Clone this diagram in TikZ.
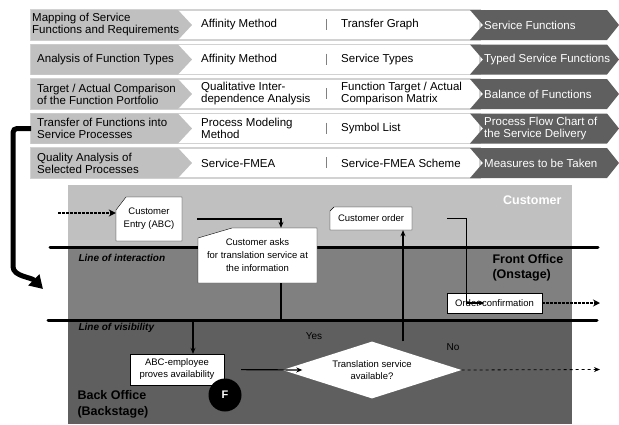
\documentclass[tikz,border=0pt]{standalone}
\usepackage{fontspec}
\setmainfont{Liberation Sans}
\usepackage{xcolor}
\usepackage{tikz}
\usetikzlibrary{arrows.meta,shapes.geometric}
\definecolor{light}{HTML}{C0C0C0}
\definecolor{middle}{HTML}{808080}
\definecolor{darkgr}{HTML}{5F5F5F}
\definecolor{rowline}{HTML}{D2D2D2}

\begin{document}
\begin{tikzpicture}[x=1pt,y=-1pt,
  tab/.style={anchor=west,inner sep=0pt,align=left,font=\fontsize{11.5}{12}\selectfont},
  doc/.style={rectangle,inner sep=1pt,align=center,font=\fontsize{9.5}{13}\selectfont},
  box/.style={rectangle,draw,fill=white,inner sep=1pt,align=center,font=\fontsize{9.5}{12}\selectfont},
  flow/.style={line width=1.2pt,-{Stealth[length=6pt,width=5pt]}},
  dflow/.style={line width=2.4pt,dash pattern=on 3pt off 1pt,-{Stealth[length=7pt,width=7pt]}},
  lane/.style={line width=3pt,line cap=round}]
\useasboundingbox (0,0) rectangle (619,424);
%% rows of the table
\draw [rowline,line width=1.2pt,fill=white] (31,10) rectangle (480,40);
\draw [rowline,line width=1.2pt,fill=white] (31,44.5) rectangle (480,74.5);
\draw [rowline,line width=1.2pt,fill=white] (31,79) rectangle (480,109);
\draw [rowline,line width=1.2pt,fill=white] (31,113.5) rectangle (480,143.5);
\draw [rowline,line width=1.2pt,fill=white] (31,148) rectangle (480,178);
%
\fill [light] (31,10) -- ++(147,0) -- ++(14,15) -- ++(-14,15) -- ++(-147,0) -- cycle;
\fill [light] (31,44.5) -- ++(147,0) -- ++(14,15) -- ++(-14,15) -- ++(-147,0) -- cycle;
\fill [light] (31,79) -- ++(147,0) -- ++(14,15) -- ++(-14,15) -- ++(-147,0) -- cycle;
\fill [light] (31,113.5) -- ++(147,0) -- ++(14,15) -- ++(-14,15) -- ++(-147,0) -- cycle;
\fill [light] (31,148) -- ++(147,0) -- ++(14,15) -- ++(-14,15) -- ++(-147,0) -- cycle;
%
\fill [darkgr] (470,10) -- ++(137,0) -- ++(12,15) -- ++(-12,15) -- ++(-137,0) -- ++(13,-15) -- cycle;
\fill [darkgr] (470,44.5) -- ++(137,0) -- ++(12,15) -- ++(-12,15) -- ++(-137,0) -- ++(13,-15) -- cycle;
\fill [darkgr] (470,79) -- ++(137,0) -- ++(12,15) -- ++(-12,15) -- ++(-137,0) -- ++(13,-15) -- cycle;
\fill [darkgr] (470,113.5) -- ++(137,0) -- ++(12,15) -- ++(-12,15) -- ++(-137,0) -- ++(13,-15) -- cycle;
\fill [darkgr] (470,148) -- ++(137,0) -- ++(12,15) -- ++(-12,15) -- ++(-137,0) -- ++(13,-15) -- cycle;
%
\draw [gray] (326,19) -- ++(0,11);
\draw [gray] (326,53.5) -- ++(0,11);
\draw [gray] (326,88) -- ++(0,11);
\draw [gray] (326,122.5) -- ++(0,11);
\draw [gray] (326,157) -- ++(0,11);
%
\node (p1) at (32,25) [tab] {Mapping of Service\\Functions and Requirements};
\node (a1) at (201,25) [tab] {Affinity Method};
\node (b1) at (341,25) [tab] {Transfer Graph};
\node (r1) at (484,25) [tab,white] {Service Functions};
\node (p2) at (37,59.5) [tab] {Analysis of Function Types};
\node (a2) at (201,59.5) [tab] {Affinity Method};
\node (b2) at (341,59.5) [tab] {Service Types};
\node (r2) at (484,59.5) [tab,white] {Typed Service Functions};
\node (p3) at (37,94) [tab] {Target / Actual Comparison\\of the Function Portfolio};
\node (a3) at (201,94) [tab] {Qualitative Inter-\\dependence Analysis};
\node (b3) at (341,94) [tab] {Function Target / Actual\\Comparison Matrix};
\node (r3) at (484,94) [tab,white] {Balance of Functions};
\node (p4) at (37,128.5) [tab] {Transfer of Functions into\\Service Processes};
\node (a4) at (201,128.5) [tab] {Process Modeling\\Method};
\node (b4) at (341,128.5) [tab] {Symbol List};
\node (r4) at (484,128.5) [tab,white] {Process Flow Chart of\\the Service Delivery};
\node (p5) at (37,163) [tab] {Quality Analysis of\\Selected Processes};
\node (a5) at (201,163) [tab] {Service-FMEA};
\node (b5) at (341,163) [tab] {Service-FMEA Scheme};
\node (r5) at (484,163) [tab,white] {Measures to be Taken};
%% blueprint
\fill [light] (68,185) rectangle (572,247);
\fill [middle] (68,247) rectangle (572,320);
\fill [darkgr] (68,320) rectangle (572,424);
\draw [lane] (50,247) -- (598,247);
\draw [lane] (48,320) -- (597,320);
%
\node (cu) at (565,200) [anchor=east,white,font=\bfseries\fontsize{12.5}{15}\selectfont] {Customer};
\node (fo) at (489,268) [anchor=west,align=left,font=\bfseries\fontsize{12.5}{15}\selectfont] {Front Office\\(Onstage)};
\node (bo) at (74,404) [anchor=west,align=left,font=\bfseries\fontsize{12.5}{16}\selectfont] {Back Office\\(Backstage)};
\node (li) at (75,258) [anchor=west,font=\bfseries\itshape\fontsize{10}{12}\selectfont] {Line of interaction};
\node (lv) at (75,328) [anchor=west,font=\bfseries\itshape\fontsize{10}{12}\selectfont] {Line of visibility};
%
\draw [fill=white] (116,210) -- (126,197) -- (182,197) -- (182,241) -- (116,241) -- cycle;
\draw [fill=white] (198,238) -- (232,228) -- (317,228) -- (317,283) -- (198,283) -- cycle;
\draw [fill=white] (330,211) -- (334,207) -- (412,207) -- (412,230) -- (330,230) -- cycle;
\node (entry) at (149,219) [doc,minimum width=66pt,minimum height=44pt] {Customer\\Entry (ABC)};
\node (asks) at (257.5,255.5) [doc,minimum width=119pt,minimum height=55pt] {Customer asks\\for translation service at\\the information};
\node (order) at (371,218.5) [doc,minimum width=82pt,minimum height=23pt] {Customer order};
\node (confirm) at (494.5,303) [box,minimum width=95pt,minimum height=20pt] {Order confirmation};
\node (employee) at (177,369.5) [box,minimum width=94pt,minimum height=31pt] {ABC-employee\\proves availability};
\node (avail) at (372,370) [diamond,fill=white,shape aspect=3.1,minimum width=179pt,minimum height=57pt,inner sep=1pt,align=center,font=\fontsize{9.5}{12}\selectfont] {Translation service\\available?};
\node (f) at (225,395) [circle,fill=black,minimum size=33pt,inner sep=0pt,text=white,font=\bfseries\fontsize{11}{12}\selectfont] {F};
\node (yes) at (314,336) [font=\fontsize{10}{12}\selectfont] {Yes};
\node (no) at (453,347) [font=\fontsize{10}{12}\selectfont] {No};
%
\coordinate (in) at (58,213);
\coordinate (out1) at (600,303);
\coordinate (out2) at (600,369.5);
\coordinate (c) at (43,289);
%
\draw [dflow] (in) -- (in -| entry.west);
\draw [flow,shorten <=15pt] (entry.east) -| ([xshift=23.5pt]asks.north);
\draw [flow] ([xshift=23.5pt]asks.south) -- ++(0,37) -| ([xshift=16pt]employee.north);
\draw [flow,shorten <=17pt] (employee.east) -- ([xshift=20pt]avail.west);
\draw [flow] ([xshift=31pt]avail.north) -- ([xshift=32pt]order.south);
\draw [flow,shorten <=35pt] (order.east) -- ++(54,0) |- ([xshift=-10pt]confirm.center);
\draw [dflow] (confirm.east) -- (out1);
\draw [line width=0.8pt,dashed,-{Stealth[length=6pt,width=5pt]}] (avail.east) -- (out2);
%%
\draw [line width=5pt,rounded corners=4pt,-{Triangle[length=13pt,width=15pt]}] ([xshift=-6pt]p4.west) -- ++(-18,0) -- ++(0,134) .. controls +(0,14) and +(-12,-12) .. (c);
\end{tikzpicture}
\end{document}
